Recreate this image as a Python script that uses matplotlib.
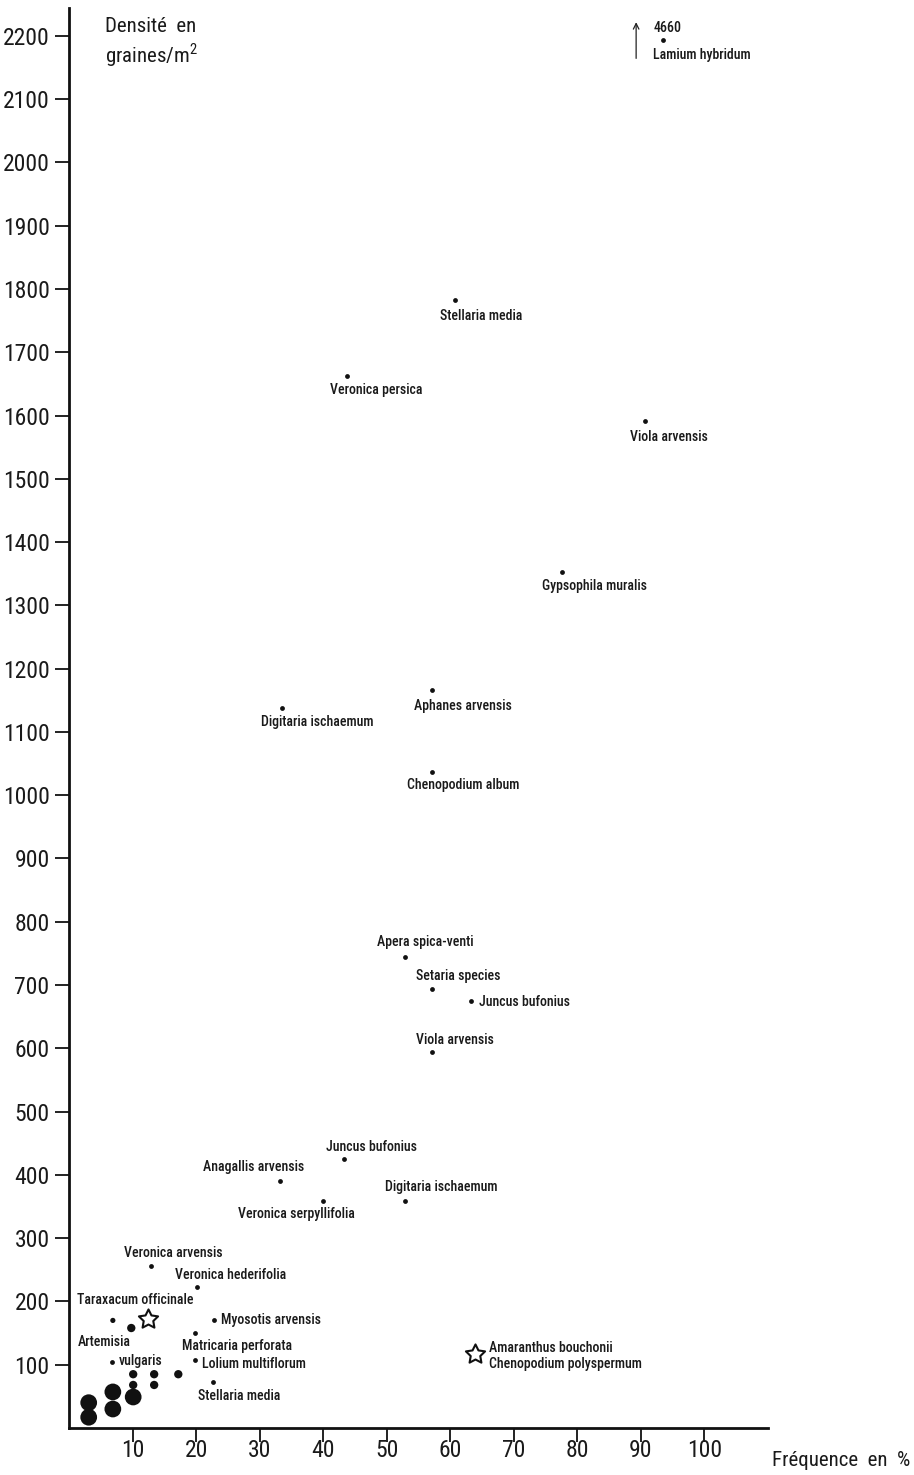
import matplotlib
matplotlib.use("Agg")
import matplotlib.pyplot as plt
from matplotlib import font_manager

avail = {f.name for f in font_manager.fontManager.ttflist}
FONT = next((f for f in ["Liberation Sans Narrow", "Roboto Condensed", "DejaVu Sans Condensed", "Liberation Sans"] if f in avail), "DejaVu Sans")
plt.rcParams['font.family'] = [FONT, 'DejaVu Sans']
plt.rcParams['mathtext.fontset'] = 'custom'
plt.rcParams['mathtext.rm'] = FONT
plt.rcParams['text.color'] = '#1a1a1a'

# ---- data ----
species = ["Lamium hybridum", "Stellaria media", "Veronica persica", "Viola arvensis",
           "Gypsophila muralis", "Aphanes arvensis", "Digitaria ischaemum", "Chenopodium album",
           "Apera spica-venti", "Setaria species", "Juncus bufonius", "Viola arvensis",
           "Juncus bufonius", "Anagallis arvensis", "Veronica serpyllifolia", "Digitaria ischaemum",
           "Veronica arvensis", "Veronica hederifolia", "Myosotis arvensis", "Matricaria perforata",
           "vulgaris", "Lolium multiflorum", "Stellaria media"]
freq = [93.5, 60.8, 43.8, 90.7, 77.6, 57.2, 33.5, 57.2,
        52.8, 57.2, 63.3, 57.2,
        43.3, 33.2, 40.0, 52.8,
        12.9, 20.2, 22.8, 19.8,
        6.8, 19.8, 22.7]
density = [2193, 1783, 1663, 1592, 1353, 1167, 1138, 1037,
           744, 693, 674, 594,
           425, 390, 358, 358,
           256, 223, 171, 150,
           104, 107, 73]

star_labels = ["Taraxacum officinale", "Amaranthus bouchonii\nChenopodium polyspermum"]
star_freq = [12.4, 63.9]
star_density = [172, 117]

extra_freq = [6.9, 9.8, 10.1, 13.4, 17.2, 10.1, 13.4, 6.9, 6.9, 10.1, 3.1, 3.1]
extra_density = [170, 158, 85, 85, 85, 68, 68, 57, 30, 49, 40, 17]
extra_class = ["s", "m", "m", "m", "m", "m", "m", "L", "L", "L", "L", "L"]

lamium_true = "4660"
artemisia_genus = "Artemisia"

y_ticks = list(range(100, 2201, 100))
x_ticks = list(range(10, 101, 10))

# ---- styles (label offsets in pixels, alignment) ----
label_style = [(-10, -15, 'left'), (26, -16, 'center'), (29, -14, 'center'), (24, -16, 'center'),
               (32, -14, 'center'), (30, -16, 'center'), (35, -14, 'center'), (31, -13, 'center'),
               (21, 15, 'center'), (26, 13, 'center'), (8, -1, 'left'), (22, 12, 'center'),
               (27, 12, 'center'), (-26, 14, 'center'), (-27, -13, 'center'), (37, 14, 'center'),
               (22, 13, 'center'), (33, 12, 'center'), (7, 0, 'left'), (42, -13, 'center'),
               (7, 1, 'left'), (7, -4, 'left'), (26, -14, 'center')]
star_style = [(-13, 19, 'center'), (14, -2, 'left')]
size_map = {"s": 14, "m": 36, "L": 145}

fig = plt.figure(figsize=(9.14, 14.75), dpi=100)
ax = fig.add_axes([69/914, 47/1475, (768-69)/914, (1428-8)/1475])
ax.set_xlim(0, 110)
ax.set_ylim(0, 2244)

ax.scatter(freq, density, s=12, color='#111111', zorder=3, linewidths=0)
ax.scatter(extra_freq, extra_density, s=[size_map[c] for c in extra_class],
           color='#111111', zorder=3, linewidths=0)
ax.scatter(star_freq, star_density, s=210, marker=(5, 1), facecolor='white',
           edgecolor='#111111', linewidths=1.5, zorder=4)

FS = 10
for name, xv, yv, (dx, dy, ha) in zip(species, freq, density, label_style):
    ax.annotate(name, (xv, yv), xytext=(dx, dy), textcoords='offset pixels',
                ha=ha, va='center', fontsize=FS, fontweight='medium')
for name, xv, yv, (dx, dy, ha) in zip(star_labels, star_freq, star_density, star_style):
    ax.annotate(name, (xv, yv), xytext=(dx, dy), textcoords='offset pixels',
                ha=ha, va='center', fontsize=FS, linespacing=1.2, fontweight='medium')
# Artemisia genus line for the "vulgaris" point
ax.annotate(artemisia_genus, (freq[20], density[20]), xytext=(-8, 20), textcoords='offset pixels',
            ha='center', va='center', fontsize=FS, fontweight='medium')
# off-scale value for Lamium hybridum
ax.annotate(lamium_true, (freq[0], density[0]), xytext=(-10, 12), textcoords='offset pixels',
            ha='left', va='center', fontsize=FS, fontweight='medium')
arrow_x = freq[0] - 27 / 6.35
ax.annotate('', xy=(arrow_x, density[0] + 33), xytext=(arrow_x, density[0] - 33),
            arrowprops=dict(arrowstyle='->', color='#222222', lw=0.9, mutation_scale=10))

for side in ['top', 'right']:
    ax.spines[side].set_visible(False)
for side in ['left', 'bottom']:
    ax.spines[side].set_linewidth(2)
    ax.spines[side].set_color('#111111')

ax.set_yticks(y_ticks)
ax.set_yticklabels([str(v) for v in y_ticks], fontsize=17)
ax.set_xticks(x_ticks)
ax.set_xticklabels([str(v) for v in x_ticks], fontsize=17)
ax.tick_params(axis='y', direction='out', length=10, width=1.3, pad=4, colors='#111111', labelcolor='#1a1a1a')
ax.tick_params(axis='x', direction='in', length=10, width=1.3, pad=8, colors='#111111', labelcolor='#1a1a1a')
for t in ax.xaxis.get_major_ticks():
    t.tick1line.set_marker(matplotlib.lines.TICKDOWN)

fig.text(105/914, 1 - 43/1475, 'Densité  en\ngraines/m$^{\\mathrm{2}}$', fontsize=15,
         ha='left', va='center', linespacing=1.2)
fig.text(910/914, 1 - 1460/1475, 'Fréquence  en  %', fontsize=15, ha='right', va='center')

fig.savefig('out.png', dpi=100)
